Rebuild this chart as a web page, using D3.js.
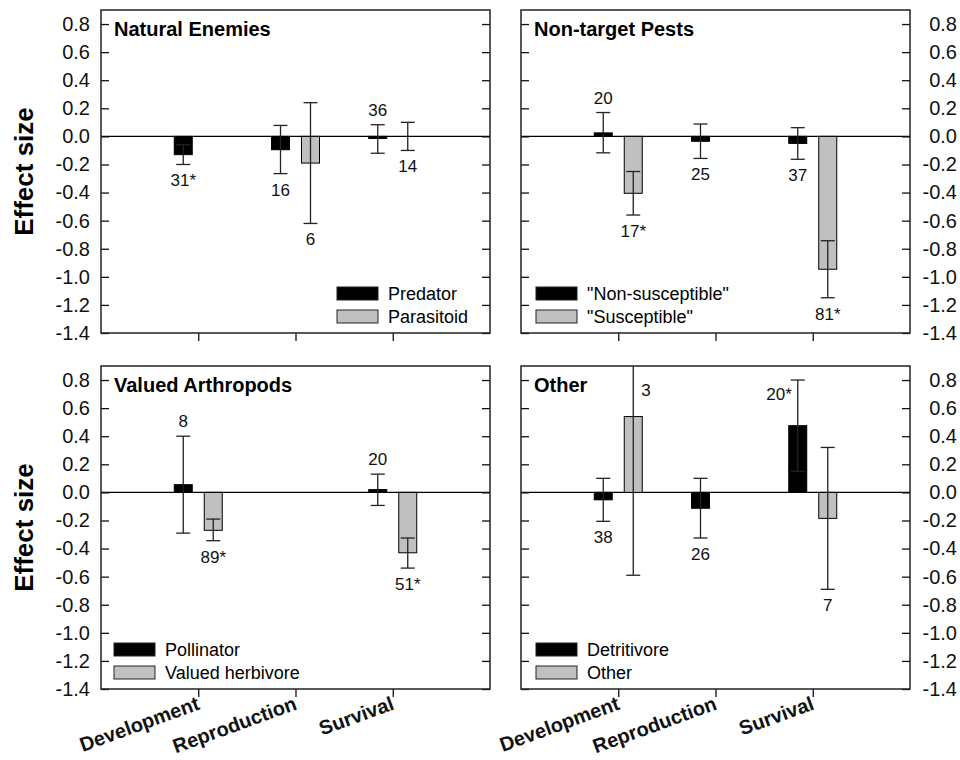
<!DOCTYPE html>
<html lang="en">
<head>
    <meta charset="UTF-8">
    <title>Effect size by arthropod group</title>
    <script src="https://d3js.org/d3.v7.min.js"></script>
    <style>
        body { margin: 0; background: #fff; }
        svg { display: block; }
    </style>
</head>
<body>
    <div id="chart"></div>

    <script>
        // categories along the x axis
        const categories = ["Development", "Reproduction", "Survival"];
        const panelTitles = ["Natural Enemies", "Non-target Pests", "Valued Arthropods", "Other"];
        const legendNames = [
            ["Predator", "Parasitoid"],
            ["\"Non-susceptible\"", "\"Susceptible\""],
            ["Pollinator", "Valued herbivore"],
            ["Detritivore", "Other"]
        ];
        const yTicks = [0.8, 0.6, 0.4, 0.2, 0.0, -0.2, -0.4, -0.6, -0.8, -1.0, -1.2, -1.4];

        // mean effect size per panel: [black series, grey series], one value per category
        const means = [
            [[-0.13, -0.095, -0.015], [null, -0.19, 0.0]],
            [[0.025, -0.035, -0.05], [-0.405, null, -0.946]],
            [[0.055, null, 0.02], [-0.27, null, -0.43]],
            [[-0.053, -0.113, 0.475], [0.54, null, -0.185]]
        ];
        // lower and upper ends of the error bars
        const lower = [
            [[-0.20, -0.265, -0.12], [null, -0.62, -0.10]],
            [[-0.117, -0.157, -0.163], [-0.56, null, -1.149]],
            [[-0.29, null, -0.093], [-0.344, null, -0.539]],
            [[-0.206, -0.325, 0.15], [-0.59, null, -0.69]]
        ];
        const upper = [
            [[-0.06, 0.078, 0.083], [null, 0.24, 0.10]],
            [[0.17, 0.088, 0.062], [-0.25, null, -0.743]],
            [[0.40, null, 0.13], [-0.19, null, -0.325]],
            [[0.10, 0.10, 0.80], [1.67, null, 0.32]]
        ];
        // sample sizes (* = significant)
        const nLabels = [
            [["31*", "16", "36"], [null, "6", "14"]],
            [["20", "25", "37"], ["17*", null, "81*"]],
            [["8", null, "20"], ["89*", null, "51*"]],
            [["38", "26", "20*"], ["3", null, "7"]]
        ];
        // where the n label sits: b = below, a = above, l = left, r = right of the bar
        const labelSide = [
            [["b", "b", "a"], [null, "b", "b"]],
            [["a", "b", "b"], ["b", null, "b"]],
            [["a", null, "a"], ["b", null, "b"]],
            [["b", "b", "l"], ["r", null, "b"]]
        ];

        const font = "Arial, 'Liberation Sans', Helvetica, sans-serif";
        const fills = ["#000000", "#c0c0c0"];
        const panelW = 389, panelH = 323;
        const panelX = [101, 521], panelY = [10, 366];
        const legendX = [236, 15, 13, 15];
        const barW = 18, barOff = 15, capW = 14;

        const svg = d3.select("#chart")
            .append("svg")
            .attr("width", 960)
            .attr("height", 760)
            .style("font-family", font);

        const x = d3.scaleLinear().domain([0, 4]).range([0, panelW]);
        const y = d3.scaleLinear().domain([-1.4, 0.9]).range([panelH, 0]);
        const fmt = d => d.toFixed(1);

        panelTitles.forEach((title, i) => {
            const col = i % 2, row = Math.floor(i / 2);
            const g = svg.append("g")
                .attr("transform", `translate(${panelX[col]}, ${panelY[row]})`);

            g.append("clipPath").attr("id", "clip" + i)
                .append("rect").attr("width", panelW).attr("height", panelH);
            const plot = g.append("g").attr("clip-path", `url(#clip${i})`);

            // zero line
            plot.append("line")
                .attr("x1", 0).attr("x2", panelW)
                .attr("y1", y(0)).attr("y2", y(0))
                .attr("stroke", "#000").attr("stroke-width", 1.3);

            // flatten the panel's values
            const rows = [];
            for (let s = 0; s < 2; s++) {
                for (let c = 0; c < 3; c++) {
                    if (means[i][s][c] === null) continue;
                    rows.push({
                        s, c,
                        mean: means[i][s][c],
                        lo: lower[i][s][c],
                        hi: upper[i][s][c],
                        label: nLabels[i][s][c],
                        side: labelSide[i][s][c],
                        cx: x(c + 1) + (s === 0 ? -barOff : barOff)
                    });
                }
            }

            plot.selectAll("rect.bar")
                .data(rows)
                .enter()
                .append("rect")
                .attr("class", "bar")
                .attr("x", d => d.cx - barW / 2)
                .attr("y", d => y(Math.max(d.mean, 0)))
                .attr("width", barW)
                .attr("height", d => Math.abs(y(d.mean) - y(0)))
                .attr("fill", d => fills[d.s])
                .attr("stroke", "#000")
                .attr("stroke-width", 1);

            // error bars
            const eb = plot.selectAll("g.err")
                .data(rows)
                .enter()
                .append("g")
                .attr("class", "err")
                .attr("stroke", "#222")
                .attr("stroke-width", 1.3);
            eb.append("line")
                .attr("x1", d => d.cx).attr("x2", d => d.cx)
                .attr("y1", d => y(d.lo)).attr("y2", d => y(d.hi));
            eb.append("line")
                .attr("x1", d => d.cx - capW / 2).attr("x2", d => d.cx + capW / 2)
                .attr("y1", d => y(d.lo)).attr("y2", d => y(d.lo));
            eb.append("line")
                .attr("x1", d => d.cx - capW / 2).attr("x2", d => d.cx + capW / 2)
                .attr("y1", d => y(d.hi)).attr("y2", d => y(d.hi));

            // n labels
            g.selectAll("text.n")
                .data(rows)
                .enter()
                .append("text")
                .attr("class", "n")
                .attr("font-size", 17)
                .attr("fill", "#111")
                .attr("text-anchor", d => d.side === "l" ? "end" : d.side === "r" ? "start" : "middle")
                .attr("x", d => d.side === "l" ? d.cx - 6 : d.side === "r" ? d.cx + 8 : d.cx)
                .attr("y", d => {
                    const top = y(Math.min(d.hi, 0.9));
                    if (d.side === "b") return y(d.lo) + 22;
                    if (d.side === "a") return y(d.hi) - 9;
                    return top + (d.side === "r" ? 30 : 20);
                })
                .text(d => d.label);

            // axes
            const left = d3.axisLeft(y).tickValues(yTicks).tickSize(-8).tickPadding(11)
                .tickFormat(col === 0 ? fmt : () => "");
            const right = d3.axisRight(y).tickValues(yTicks).tickSize(-8).tickPadding(11)
                .tickFormat(col === 1 ? fmt : () => "");
            const bottom = d3.axisBottom(x).tickValues([1, 2, 3]).tickSize(8)
                .tickFormat(row === 1 ? d => categories[d - 1] : () => "");

            const gl = g.append("g").call(left);
            const gr = g.append("g").attr("transform", `translate(${panelW}, 0)`).call(right);
            const gb = g.append("g").attr("transform", `translate(0, ${panelH})`).call(bottom);
            [gl, gr, gb].forEach(a => {
                a.attr("font-size", 20).attr("font-family", font).attr("color", "#111");
                a.select(".domain").remove();
                a.selectAll("line").attr("stroke-width", 1.3);
            });
            gr.selectAll("text").attr("text-anchor", "end").attr("x", 47);
            gb.selectAll("text")
                .attr("font-weight", "bold")
                .attr("text-anchor", "end")
                .attr("y", null).attr("dy", null)
                .attr("transform", "translate(2, 20) rotate(-20)");

            // frame
            g.append("rect")
                .attr("width", panelW).attr("height", panelH)
                .attr("fill", "none").attr("stroke", "#222").attr("stroke-width", 1.5);

            // title
            g.append("text")
                .attr("x", 13).attr("y", 26)
                .attr("font-size", 20).attr("font-weight", "bold")
                .text(title);

            // legend
            const lg = g.append("g")
                .attr("transform", `translate(${legendX[i]}, ${panelH - 46})`);
            legendNames[i].forEach((name, s) => {
                lg.append("rect")
                    .attr("x", 0).attr("y", s * 23)
                    .attr("width", 41).attr("height", 13)
                    .attr("fill", fills[s]).attr("stroke", "#222").attr("stroke-width", 1);
                lg.append("text")
                    .attr("x", 51).attr("y", s * 23 + 13)
                    .attr("font-size", 18)
                    .text(name);
            });

            // y title on the left column
            if (col === 0) {
                svg.append("text")
                    .attr("transform", `translate(33, ${panelY[row] + panelH / 2}) rotate(-90)`)
                    .attr("text-anchor", "middle")
                    .attr("font-size", 26).attr("font-weight", "bold")
                    .text("Effect size");
            }
        });
    </script>
</body>
</html>
